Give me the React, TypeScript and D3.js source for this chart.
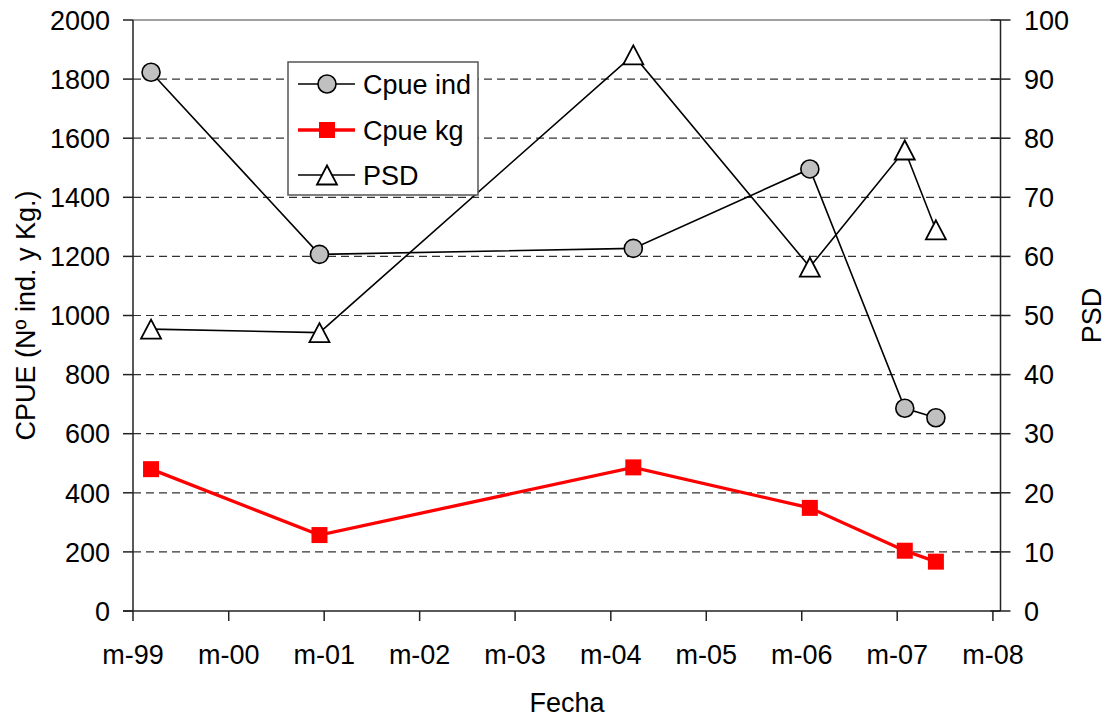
import React from "react";
import * as d3 from "d3";

const dates = ["1999-07-09", "2001-04-13", "2004-07-26", "2006-06-01", "2007-05-30", "2007-09-26"];
const cpueInd = [1823, 1207, 1227, 1496, 686, 654];
const cpueKg = [480, 257, 486, 349, 204, 167];
const psd = [47.7, 47.1, 94.1, 58.2, 78, 64.5];
const leftTicks = [0, 200, 400, 600, 800, 1000, 1200, 1400, 1600, 1800, 2000];
const rightTicks = [0, 10, 20, 30, 40, 50, 60, 70, 80, 90, 100];
const xTickYears = [1999, 2000, 2001, 2002, 2003, 2004, 2005, 2006, 2007, 2008];

const W = 1112, H = 718;
const L = 133, R = 1000.5, T = 20, B = 611;
const FONT = "'Liberation Sans', Arial, sans-serif";
const FS = 27;

export default function App() {
  const parse = d3.timeParse("%Y-%m-%d");
  const dts = dates.map((d) => parse(d) as Date);
  const x = d3.scaleTime().domain([new Date(1999, 4, 1), new Date(2008, 4, 30)]).range([L, R]);
  const yL = d3.scaleLinear().domain([0, 2000]).range([B, T]);
  const yR = d3.scaleLinear().domain([0, 100]).range([B, T]);

  const lineL = d3.line<number>().x((_, i) => x(dts[i])).y((v) => yL(v));
  const lineR = d3.line<number>().x((_, i) => x(dts[i])).y((v) => yR(v));

  const tri = (cx: number, cy: number) => {
    const hw = 10, hh = 9.5;
    return `M${cx},${cy - hh}L${cx + hw},${cy + hh}L${cx - hw},${cy + hh}Z`;
  };

  const legX = 288, legY = 62, legW = 190, legH = 133;
  const legItems = [
    { label: "Cpue ind", y: 84, kind: "circle" },
    { label: "Cpue kg", y: 130, kind: "square" },
    { label: "PSD", y: 175, kind: "tri" },
  ];

  return (
    <svg width={W} height={H} style={{ position: "absolute", left: 0, top: 0, display: "block", background: "#fff" }} fontFamily={FONT}>
      {/* gridlines */}
      {leftTicks.filter((t) => t > 0 && t < 2000).map((t) => (
        <line key={"g" + t} x1={L} x2={R} y1={yL(t)} y2={yL(t)} stroke="#333" strokeWidth={1.2} strokeDasharray="8,5" />
      ))}
      {/* top border */}
      <line x1={L} x2={R} y1={T} y2={T} stroke="#808080" strokeWidth={1.5} />
      {/* left axis */}
      <line x1={L} x2={L} y1={T} y2={B} stroke="#222" strokeWidth={1.5} />
      {leftTicks.map((t) => (
        <g key={"l" + t}>
          <line x1={L - 10} x2={L} y1={yL(t)} y2={yL(t)} stroke="#222" strokeWidth={1.5} />
          <text x={110} y={yL(t) + 9.7} textAnchor="end" fontSize={FS} fill="#000">{t}</text>
        </g>
      ))}
      {/* right axis */}
      <line x1={R} x2={R} y1={T} y2={B} stroke="#222" strokeWidth={1.5} />
      {rightTicks.map((t) => (
        <g key={"r" + t}>
          <line x1={R - 10} x2={R + 10} y1={yR(t)} y2={yR(t)} stroke="#222" strokeWidth={1.5} />
          <text x={1024} y={yR(t) + 9.7} textAnchor="start" fontSize={FS} fill="#000">{t}</text>
        </g>
      ))}
      {/* bottom axis */}
      <line x1={L - 10} x2={R} y1={B} y2={B} stroke="#222" strokeWidth={1.5} />
      {xTickYears.map((yr) => {
        const px = x(new Date(yr, 4, 1));
        return (
          <g key={"x" + yr}>
            <line x1={px} x2={px} y1={B} y2={B + 10} stroke="#222" strokeWidth={1.5} />
            <text x={px} y={664} textAnchor="middle" fontSize={FS} fill="#000">{"m-" + String(yr % 100).padStart(2, "0")}</text>
          </g>
        );
      })}
      {/* axis titles */}
      <text x={567} y={712} textAnchor="middle" fontSize={FS} fill="#000">Fecha</text>
      <text transform={`translate(35,${(T + B) / 2}) rotate(-90)`} textAnchor="middle" fontSize={FS} fill="#000">CPUE (Nº ind. y Kg.)</text>
      <text transform={`translate(1101,${(T + B) / 2}) rotate(-90)`} textAnchor="middle" fontSize={FS} fill="#000">PSD</text>

      {/* Cpue ind */}
      <path d={lineL(cpueInd) || ""} fill="none" stroke="#000" strokeWidth={1.6} />
      {cpueInd.map((v, i) => (
        <circle key={"c" + i} cx={x(dts[i])} cy={yL(v)} r={9} fill="#c0c0c0" stroke="#000" strokeWidth={1.6} />
      ))}
      {/* Cpue kg */}
      <path d={lineL(cpueKg) || ""} fill="none" stroke="#ff0000" strokeWidth={3.3} />
      {cpueKg.map((v, i) => (
        <rect key={"s" + i} x={x(dts[i]) - 8} y={yL(v) - 8} width={16} height={16} fill="#ff0000" />
      ))}
      {/* PSD */}
      <path d={lineR(psd) || ""} fill="none" stroke="#000" strokeWidth={1.6} />
      {psd.map((v, i) => (
        <path key={"t" + i} d={tri(x(dts[i]), yR(v))} fill="#fff" stroke="#000" strokeWidth={1.8} />
      ))}

      {/* legend */}
      <rect x={legX} y={legY} width={legW} height={legH} fill="#fff" stroke="#555" strokeWidth={1.5} />
      {legItems.map((it) => (
        <g key={it.label}>
          <line x1={298} x2={355} y1={it.y} y2={it.y} stroke={it.kind === "square" ? "#ff0000" : "#000"} strokeWidth={it.kind === "square" ? 3.3 : 1.6} />
          {it.kind === "circle" && <circle cx={327} cy={it.y} r={9} fill="#c0c0c0" stroke="#000" strokeWidth={1.6} />}
          {it.kind === "square" && <rect x={319} y={it.y - 8} width={16} height={16} fill="#ff0000" />}
          {it.kind === "tri" && <path d={tri(327, it.y)} fill="#fff" stroke="#000" strokeWidth={1.8} />}
          <text x={363} y={it.y + 9.7} fontSize={FS} fill="#000">{it.label}</text>
        </g>
      ))}
    </svg>
  );
}
